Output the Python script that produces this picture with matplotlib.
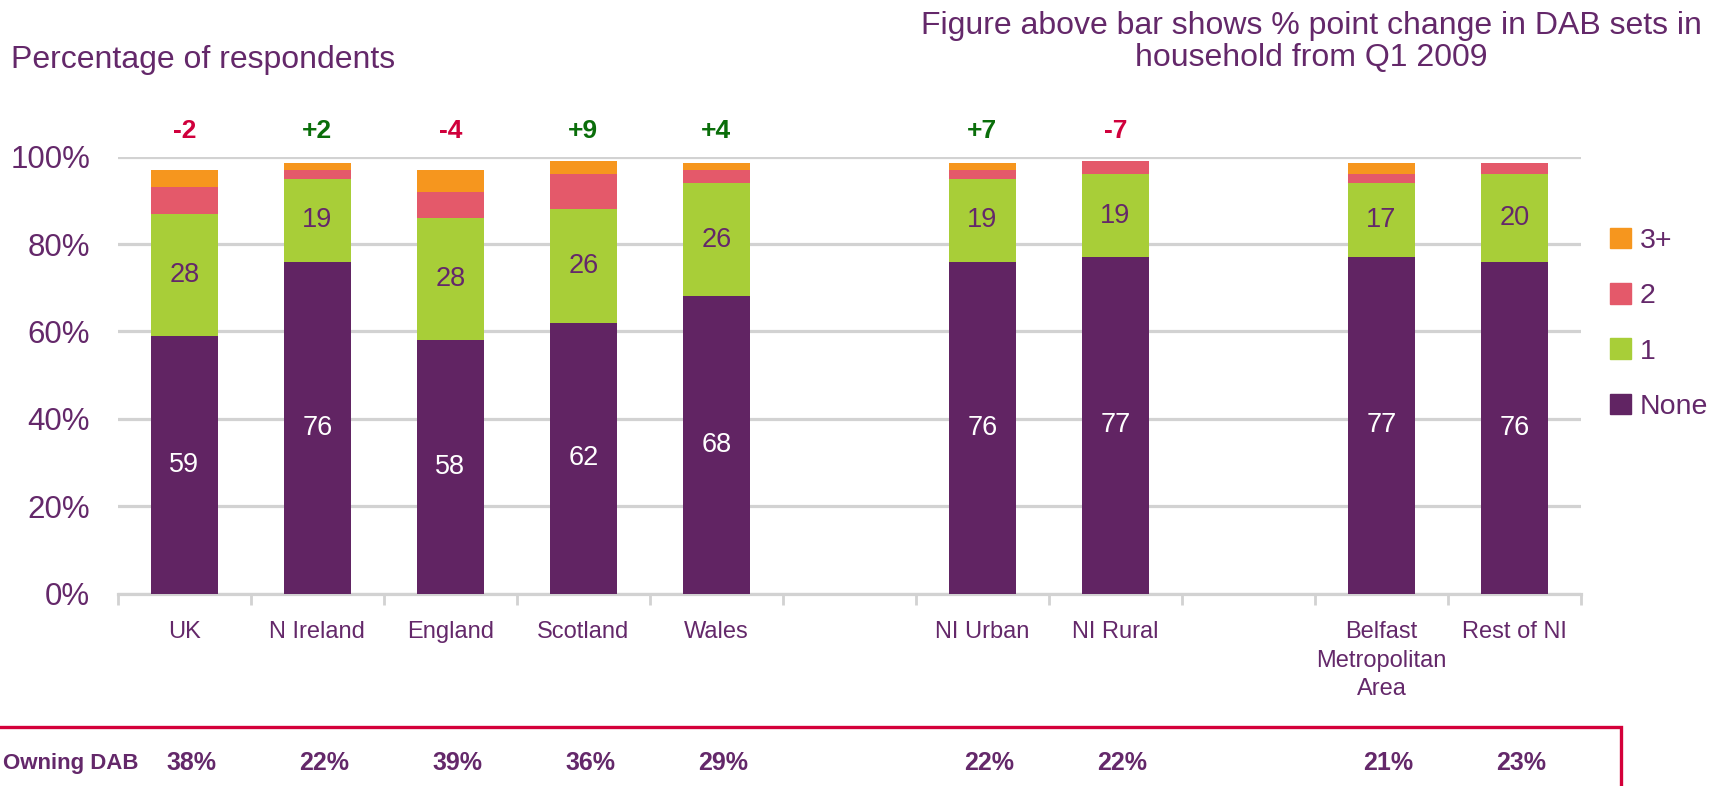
import matplotlib
matplotlib.use('Agg')
import matplotlib.pyplot as plt
import matplotlib.transforms as mtransforms
from matplotlib import font_manager
from matplotlib.patches import Patch, Rectangle
import numpy as np

plt.rcParams['font.family'] = ['Liberation Sans', 'DejaVu Sans']

# DAB sets per household, % of respondents
regions = ['UK', 'N Ireland', 'England', 'Scotland', 'Wales',
           'NI Urban', 'NI Rural',
           'Belfast\nMetropolitan\nArea', 'Rest of NI']
group_sizes = [5, 2, 2]

sets_none = [59, 76, 58, 62, 68, 76, 77, 77, 76]
sets_one = [28, 19, 28, 26, 26, 19, 19, 17, 20]
sets_two = [6, 2, 6, 8, 3, 2, 3, 2, 2.5]
sets_three = [4, 1.5, 5, 3, 1.5, 1.5, 0, 2.5, 0]

# % point change since Q1 2009 (None = not reported)
change = [-2, 2, -4, 9, 4, 7, -7, None, None]
owning_dab = [38, 22, 39, 36, 29, 22, 22, 21, 23]

PURPLE = '#612463'
TEXT = '#64286A'
GREEN = '#A8CE38'
PINK = '#E4596A'
ORANGE = '#F6961E'
GRID = '#D2D2D2'

# narrow face for the in-bar numbers if it is around
installed = {f.name for f in font_manager.fontManager.ttflist}
if 'Liberation Sans Narrow' in installed:
    value_font, value_size = 'Liberation Sans Narrow', 21
else:
    value_font, value_size = 'Liberation Sans', 19.5

# slot positions: one empty slot between groups
pos = []
slot = 0
for g in group_sizes:
    pos.extend(range(slot, slot + g))
    slot += g + 1
pos = np.array(pos)
n_slots = slot - 1

fig = plt.figure(figsize=(17.24, 7.86), dpi=100)
ax = fig.add_axes([0.0684, 0.2449, 0.8486, 0.5557])

w = 0.5
none = np.array(sets_none, float)
one = np.array(sets_one, float)
two = np.array(sets_two, float)
three = np.array(sets_three, float)

ax.bar(pos, none, w, color=PURPLE, zorder=3)
ax.bar(pos, one, w, bottom=none, color=GREEN, zorder=3)
ax.bar(pos, two, w, bottom=none + one, color=PINK, zorder=3)
ax.bar(pos, three, w, bottom=none + one + two, color=ORANGE, zorder=3)

for x, a, b in zip(pos, none, one):
    ax.text(x, a / 2, f'{a:.0f}', ha='center', va='center', color='white',
            fontsize=value_size, family=value_font, zorder=4)
    ax.text(x, a + b / 2, f'{b:.0f}', ha='center', va='center', color=TEXT,
            fontsize=value_size, family=value_font, zorder=4)

for x, c in zip(pos, change):
    if c is None:
        continue
    ax.text(x, 106, f'{c:+d}', ha='center', va='center', fontsize=19,
            fontweight='bold', color='#D0003C' if c < 0 else '#0A6E0A',
            clip_on=False)

ax.set_xlim(-0.5, n_slots - 0.5)
ax.set_ylim(0, 100)
ax.set_yticks(np.arange(0, 101, 20))
ax.set_yticklabels([f'{v}%' for v in range(0, 101, 20)])
ax.yaxis.grid(True, color=GRID, linewidth=2.3, zorder=0)
ax.tick_params(axis='y', length=0, pad=20, labelsize=22.5, labelcolor=TEXT)

ax.set_xticks(np.arange(-0.5, n_slots, 1.0))
ax.set_xticklabels([])
ax.set_xticks(pos, minor=True)
ax.set_xticklabels(regions, minor=True, linespacing=1.38)
ax.tick_params(axis='x', which='major', length=8, width=2, color=GRID,
               direction='out')
ax.tick_params(axis='x', which='minor', length=0, pad=20, labelsize=17,
               labelcolor=TEXT)

for s in ['top', 'right', 'left']:
    ax.spines[s].set_visible(False)
ax.spines['bottom'].set_color(GRID)
ax.spines['bottom'].set_linewidth(2.3)

handles = [Patch(color=ORANGE), Patch(color=PINK), Patch(color=GREEN),
           Patch(color=PURPLE)]
fig.legend(handles, ['3+', '2', '1', 'None'], loc='center left',
           bbox_to_anchor=(0.934, 0.588), frameon=False, fontsize=20.5,
           handlelength=0.74, handleheight=0.74, handletextpad=0.3,
           labelspacing=1.02, borderpad=0, borderaxespad=0,
           labelcolor=TEXT)

fig.text(0.0064, 0.9237, 'Percentage of respondents', fontsize=23,
         color=TEXT, ha='left', va='center')
fig.text(0.7605, 0.9466,
         'Figure above bar shows % point change in DAB sets in\n'
         'household from Q1 2009',
         fontsize=23, color=TEXT, ha='center', va='center', linespacing=1.12)

# ownership row in a box along the bottom
fig.patches.append(Rectangle((-0.01, -0.05), 0.95, 0.1254,
                             transform=fig.transFigure, fill=False,
                             edgecolor='#D4003A', linewidth=2.4))
fig.text(0.0803, 0.029, 'Owning DAB', fontsize=16, fontweight='bold',
         color=TEXT, ha='right', va='center')
row = mtransforms.blended_transform_factory(ax.transData, fig.transFigure)
for x, v in zip(pos, owning_dab):
    ax.text(x + 0.05, 0.029, f'{v}%', transform=row, ha='center',
            va='center', fontsize=18, fontweight='bold', color=TEXT,
            clip_on=False)

fig.savefig('out.png', dpi=100)
